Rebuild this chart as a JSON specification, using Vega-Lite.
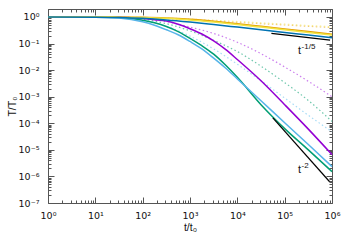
{
  "$schema": "https://vega.github.io/schema/vega-lite/v6.json",
  "width": 284,
  "height": 194,
  "autosize": {"type": "none"},
  "padding": {"left": 48, "top": 9, "right": 18, "bottom": 42},
  "config": {
    "font": "DejaVu Sans",
    "view": {"stroke": "#555", "strokeWidth": 1},
    "axis": {"grid": false, "domain": false, "tickColor": "#555", "tickWidth": 1, "labelFont": "DejaVu Sans", "labelFontSize": 9.5, "labelColor": "#111", "titleFont": "Liberation Sans", "titleFontSize": 10.5, "titleFontWeight": "normal", "titleColor": "#111"}
  },
  "datasets": {
    "dotted": [
      {"s": "purple_d", "t": 1, "T": 1}, {"s": "purple_d", "t": 10, "T": 1}, {"s": "purple_d", "t": 31.62, "T": 0.99}, {"s": "purple_d", "t": 100, "T": 0.891}, {"s": "purple_d", "t": 316.2, "T": 0.676}, {"s": "purple_d", "t": 1000, "T": 0.417}, {"s": "purple_d", "t": 3162, "T": 0.24}, {"s": "purple_d", "t": 10000, "T": 0.112}, {"s": "purple_d", "t": 31623, "T": 0.0417}, {"s": "purple_d", "t": 100000, "T": 0.0132}, {"s": "purple_d", "t": 316228, "T": 0.0038}, {"s": "purple_d", "t": 1000000, "T": 0.001},
      {"s": "green_d", "t": 1, "T": 1}, {"s": "green_d", "t": 10, "T": 1}, {"s": "green_d", "t": 31.62, "T": 0.98}, {"s": "green_d", "t": 100, "T": 0.832}, {"s": "green_d", "t": 316.2, "T": 0.562}, {"s": "green_d", "t": 1000, "T": 0.302}, {"s": "green_d", "t": 3162, "T": 0.132}, {"s": "green_d", "t": 10000, "T": 0.0501}, {"s": "green_d", "t": 31623, "T": 0.0141}, {"s": "green_d", "t": 100000, "T": 0.00339}, {"s": "green_d", "t": 316228, "T": 0.000724}, {"s": "green_d", "t": 1000000, "T": 0.000117},
      {"s": "lightblue_d", "t": 1, "T": 1}, {"s": "lightblue_d", "t": 10, "T": 0.998}, {"s": "lightblue_d", "t": 31.62, "T": 0.96}, {"s": "lightblue_d", "t": 100, "T": 0.759}, {"s": "lightblue_d", "t": 316.2, "T": 0.447}, {"s": "lightblue_d", "t": 1000, "T": 0.191}, {"s": "lightblue_d", "t": 3162, "T": 0.0631}, {"s": "lightblue_d", "t": 10000, "T": 0.0166}, {"s": "lightblue_d", "t": 31623, "T": 0.00398}, {"s": "lightblue_d", "t": 100000, "T": 0.000891}, {"s": "lightblue_d", "t": 316228, "T": 0.0002}, {"s": "lightblue_d", "t": 1000000, "T": 0.0000479},
      {"s": "orange_d", "t": 1, "T": 1}, {"s": "orange_d", "t": 10, "T": 0.999}, {"s": "orange_d", "t": 31.62, "T": 0.973}, {"s": "orange_d", "t": 100, "T": 0.933}, {"s": "orange_d", "t": 316.2, "T": 0.867}, {"s": "orange_d", "t": 1000, "T": 0.787}, {"s": "orange_d", "t": 3162, "T": 0.706}, {"s": "orange_d", "t": 10000, "T": 0.631}, {"s": "orange_d", "t": 31623, "T": 0.562}, {"s": "orange_d", "t": 100000, "T": 0.501}, {"s": "orange_d", "t": 316228, "T": 0.447}, {"s": "orange_d", "t": 1000000, "T": 0.398},
      {"s": "yellow_d", "t": 1, "T": 1}, {"s": "yellow_d", "t": 10, "T": 0.9995}, {"s": "yellow_d", "t": 31.62, "T": 0.985}, {"s": "yellow_d", "t": 100, "T": 0.959}, {"s": "yellow_d", "t": 316.2, "T": 0.91}, {"s": "yellow_d", "t": 1000, "T": 0.836}, {"s": "yellow_d", "t": 3162, "T": 0.753}, {"s": "yellow_d", "t": 10000, "T": 0.675}, {"s": "yellow_d", "t": 31623, "T": 0.603}, {"s": "yellow_d", "t": 100000, "T": 0.537}, {"s": "yellow_d", "t": 316228, "T": 0.479}, {"s": "yellow_d", "t": 1000000, "T": 0.427}
    ],
    "solid": [
      {"s": "purple", "t": 1, "T": 1}, {"s": "purple", "t": 10, "T": 1}, {"s": "purple", "t": 31.62, "T": 0.995}, {"s": "purple", "t": 100, "T": 0.871}, {"s": "purple", "t": 177.8, "T": 0.794}, {"s": "purple", "t": 316.2, "T": 0.708}, {"s": "purple", "t": 562.3, "T": 0.537}, {"s": "purple", "t": 1000, "T": 0.363}, {"s": "purple", "t": 1778, "T": 0.229}, {"s": "purple", "t": 3162, "T": 0.126}, {"s": "purple", "t": 5623, "T": 0.0603}, {"s": "purple", "t": 10000, "T": 0.0251}, {"s": "purple", "t": 31623, "T": 0.00398}, {"s": "purple", "t": 100000, "T": 0.000501}, {"s": "purple", "t": 316228, "T": 0.0000603}, {"s": "purple", "t": 1000000, "T": 0.00000661},
      {"s": "green", "t": 1, "T": 1}, {"s": "green", "t": 10, "T": 0.998}, {"s": "green", "t": 31.62, "T": 0.955}, {"s": "green", "t": 100, "T": 0.759}, {"s": "green", "t": 177.8, "T": 0.603}, {"s": "green", "t": 316.2, "T": 0.437}, {"s": "green", "t": 562.3, "T": 0.282}, {"s": "green", "t": 1000, "T": 0.158}, {"s": "green", "t": 1778, "T": 0.0832}, {"s": "green", "t": 3162, "T": 0.0398}, {"s": "green", "t": 5623, "T": 0.0155}, {"s": "green", "t": 10000, "T": 0.00537}, {"s": "green", "t": 31623, "T": 0.000501}, {"s": "green", "t": 100000, "T": 0.0000631}, {"s": "green", "t": 316228, "T": 0.00001}, {"s": "green", "t": 1000000, "T": 0.00000151},
      {"s": "lightblue", "t": 1, "T": 1}, {"s": "lightblue", "t": 10, "T": 0.9886}, {"s": "lightblue", "t": 31.62, "T": 0.912}, {"s": "lightblue", "t": 100, "T": 0.661}, {"s": "lightblue", "t": 177.8, "T": 0.49}, {"s": "lightblue", "t": 316.2, "T": 0.331}, {"s": "lightblue", "t": 562.3, "T": 0.214}, {"s": "lightblue", "t": 1000, "T": 0.12}, {"s": "lightblue", "t": 1778, "T": 0.0631}, {"s": "lightblue", "t": 3162, "T": 0.0282}, {"s": "lightblue", "t": 5623, "T": 0.012}, {"s": "lightblue", "t": 10000, "T": 0.00468}, {"s": "lightblue", "t": 31623, "T": 0.000708}, {"s": "lightblue", "t": 100000, "T": 0.0001047}, {"s": "lightblue", "t": 316228, "T": 0.00001585}, {"s": "lightblue", "t": 1000000, "T": 0.00000234},
      {"s": "orange", "t": 1, "T": 1}, {"s": "orange", "t": 10, "T": 0.9966}, {"s": "orange", "t": 31.62, "T": 0.989}, {"s": "orange", "t": 100, "T": 0.968}, {"s": "orange", "t": 316.2, "T": 0.914}, {"s": "orange", "t": 1000, "T": 0.815}, {"s": "orange", "t": 3162, "T": 0.686}, {"s": "orange", "t": 10000, "T": 0.556}, {"s": "orange", "t": 31623, "T": 0.445}, {"s": "orange", "t": 100000, "T": 0.355}, {"s": "orange", "t": 316228, "T": 0.282}, {"s": "orange", "t": 1000000, "T": 0.224},
      {"s": "yellow", "t": 1, "T": 1}, {"s": "yellow", "t": 10, "T": 0.995}, {"s": "yellow", "t": 31.62, "T": 0.985}, {"s": "yellow", "t": 100, "T": 0.957}, {"s": "yellow", "t": 316.2, "T": 0.889}, {"s": "yellow", "t": 1000, "T": 0.778}, {"s": "yellow", "t": 3162, "T": 0.646}, {"s": "yellow", "t": 10000, "T": 0.521}, {"s": "yellow", "t": 31623, "T": 0.416}, {"s": "yellow", "t": 100000, "T": 0.331}, {"s": "yellow", "t": 316228, "T": 0.263}, {"s": "yellow", "t": 1000000, "T": 0.209},
      {"s": "darkblue", "t": 1, "T": 0.998}, {"s": "darkblue", "t": 10, "T": 0.985}, {"s": "darkblue", "t": 31.62, "T": 0.956}, {"s": "darkblue", "t": 100, "T": 0.889}, {"s": "darkblue", "t": 316.2, "T": 0.778}, {"s": "darkblue", "t": 1000, "T": 0.646}, {"s": "darkblue", "t": 3162, "T": 0.521}, {"s": "darkblue", "t": 10000, "T": 0.416}, {"s": "darkblue", "t": 31623, "T": 0.331}, {"s": "darkblue", "t": 100000, "T": 0.263}, {"s": "darkblue", "t": 316228, "T": 0.209}, {"s": "darkblue", "t": 1000000, "T": 0.166}
    ],
    "refs": [
      {"s": "r1", "t": 52500, "T": 0.24}, {"s": "r1", "t": 912000, "T": 0.1355},
      {"s": "r2", "t": 56234, "T": 0.0001585}, {"s": "r2", "t": 891251, "T": 0.000000631}
    ],
    "labels": [
      {"t": 191400, "T": 0.0405, "main": "t", "sup": "-1/5"},
      {"t": 191400, "T": 0.000001345, "main": "t", "sup": "-2"}
    ]
  },
  "resolve": {"axis": {"x": "independent", "y": "independent"}},
  "layer": [
    {
      "data": {"name": "dotted"},
      "mark": {"type": "line", "strokeWidth": 1.2, "strokeDash": [1.5, 2.5], "interpolate": "monotone"},
      "encoding": {
        "x": {"field": "t", "type": "quantitative", "scale": {"type": "log", "domain": [1, 1000000], "nice": false},
          "axis": {"orient": "bottom", "values": [1,2,3,4,5,6,7,8,9,10,20,30,40,50,60,70,80,90,100,200,300,400,500,600,700,800,900,1000,2000,3000,4000,5000,6000,7000,8000,9000,10000,20000,30000,40000,50000,60000,70000,80000,90000,100000,200000,300000,400000,500000,600000,700000,800000,900000,1000000],
            "tickSize": {"condition": {"test": "abs(log(datum.value)/LN10 - round(log(datum.value)/LN10)) < 0.001", "value": -6}, "value": -3},
            "labelExpr": "abs(log(datum.value)/LN10 - round(log(datum.value)/LN10)) < 0.001 ? '10' + ['⁰','¹','²','³','⁴','⁵','⁶'][round(log(datum.value)/LN10)] : ''",
            "labelOverlap": false, "labelFlush": false, "labelPadding": 13, "labelBaseline": "top",
            "title": "t/t₀", "titleX": 142, "titleY": 19, "titleBaseline": "top", "titleAlign": "center"}},
        "y": {"field": "T", "type": "quantitative", "scale": {"type": "log", "domain": [0.0000001, 2], "nice": false},
          "axis": {"orient": "left", "values": [0.0000001,0.0000002,0.0000003,0.0000004,0.0000005,0.0000006,0.0000007,0.0000008,0.0000009,0.000001,0.000002,0.000003,0.000004,0.000005,0.000006,0.000007,0.000008,0.000009,0.00001,0.00002,0.00003,0.00004,0.00005,0.00006,0.00007,0.00008,0.00009,0.0001,0.0002,0.0003,0.0004,0.0005,0.0006,0.0007,0.0008,0.0009,0.001,0.002,0.003,0.004,0.005,0.006,0.007,0.008,0.009,0.01,0.02,0.03,0.04,0.05,0.06,0.07,0.08,0.09,0.1,0.2,0.3,0.4,0.5,0.6,0.7,0.8,0.9,1,2],
            "tickSize": {"condition": {"test": "abs(log(datum.value)/LN10 - round(log(datum.value)/LN10)) < 0.001", "value": -6}, "value": -3},
            "labelExpr": "abs(log(datum.value)/LN10 - round(log(datum.value)/LN10)) < 0.001 ? '10' + ['⁰','⁻¹','⁻²','⁻³','⁻⁴','⁻⁵','⁻⁶','⁻⁷'][-round(log(datum.value)/LN10)] : ''",
            "labelOverlap": false, "labelFlush": false, "labelPadding": 15, "labelBaseline": "middle",
            "title": "T/T₀", "titleX": -36, "titleY": 97, "titleAngle": 270, "titleBaseline": "middle", "titleAlign": "center"}},
        "color": {"field": "s", "type": "nominal", "legend": null,
          "scale": {"domain": ["purple_d", "green_d", "lightblue_d", "orange_d", "yellow_d", "purple", "green", "lightblue", "orange", "yellow", "darkblue", "r1", "r2"],
            "range": ["#cc80ee", "#70c8ad", "#a8dcf6", "#f2c870", "#f6ec90", "#9400d3", "#009e73", "#56b4e9", "#e69f00", "#f0e442", "#0072b2", "#000000", "#000000"]}}
      }
    },
    {
      "data": {"name": "solid"},
      "mark": {"type": "line", "strokeWidth": 1.5, "interpolate": "monotone"},
      "encoding": {
        "x": {"field": "t", "type": "quantitative", "scale": {"type": "log", "domain": [1, 1000000], "nice": false},
          "axis": {"orient": "top", "values": [1,2,3,4,5,6,7,8,9,10,20,30,40,50,60,70,80,90,100,200,300,400,500,600,700,800,900,1000,2000,3000,4000,5000,6000,7000,8000,9000,10000,20000,30000,40000,50000,60000,70000,80000,90000,100000,200000,300000,400000,500000,600000,700000,800000,900000,1000000],
            "tickSize": {"condition": {"test": "abs(log(datum.value)/LN10 - round(log(datum.value)/LN10)) < 0.001", "value": -6}, "value": -3},
            "labels": false, "title": null}},
        "y": {"field": "T", "type": "quantitative", "scale": {"type": "log", "domain": [0.0000001, 2], "nice": false},
          "axis": {"orient": "right", "values": [0.0000001,0.0000002,0.0000003,0.0000004,0.0000005,0.0000006,0.0000007,0.0000008,0.0000009,0.000001,0.000002,0.000003,0.000004,0.000005,0.000006,0.000007,0.000008,0.000009,0.00001,0.00002,0.00003,0.00004,0.00005,0.00006,0.00007,0.00008,0.00009,0.0001,0.0002,0.0003,0.0004,0.0005,0.0006,0.0007,0.0008,0.0009,0.001,0.002,0.003,0.004,0.005,0.006,0.007,0.008,0.009,0.01,0.02,0.03,0.04,0.05,0.06,0.07,0.08,0.09,0.1,0.2,0.3,0.4,0.5,0.6,0.7,0.8,0.9,1,2],
            "tickSize": {"condition": {"test": "abs(log(datum.value)/LN10 - round(log(datum.value)/LN10)) < 0.001", "value": -6}, "value": -3},
            "labels": false, "title": null}},
        "color": {"field": "s", "type": "nominal", "legend": null}
      }
    },
    {
      "data": {"name": "refs"},
      "mark": {"type": "line", "strokeWidth": 1.2},
      "encoding": {
        "x": {"field": "t", "type": "quantitative", "axis": null},
        "y": {"field": "T", "type": "quantitative", "axis": null},
        "color": {"field": "s", "type": "nominal", "legend": null}
      }
    },
    {
      "data": {"name": "labels"},
      "mark": {"type": "text", "align": "left", "baseline": "alphabetic", "fontSize": 11, "font": "Liberation Sans", "color": "#111"},
      "encoding": {
        "x": {"field": "t", "type": "quantitative", "axis": null},
        "y": {"field": "T", "type": "quantitative", "axis": null},
        "text": {"field": "main"}
      }
    },
    {
      "data": {"name": "labels"},
      "mark": {"type": "text", "align": "left", "baseline": "alphabetic", "fontSize": 8, "font": "Liberation Sans", "dx": 3.6, "dy": -5, "color": "#111"},
      "encoding": {
        "x": {"field": "t", "type": "quantitative", "axis": null},
        "y": {"field": "T", "type": "quantitative", "axis": null},
        "text": {"field": "sup"}
      }
    }
  ]
}
